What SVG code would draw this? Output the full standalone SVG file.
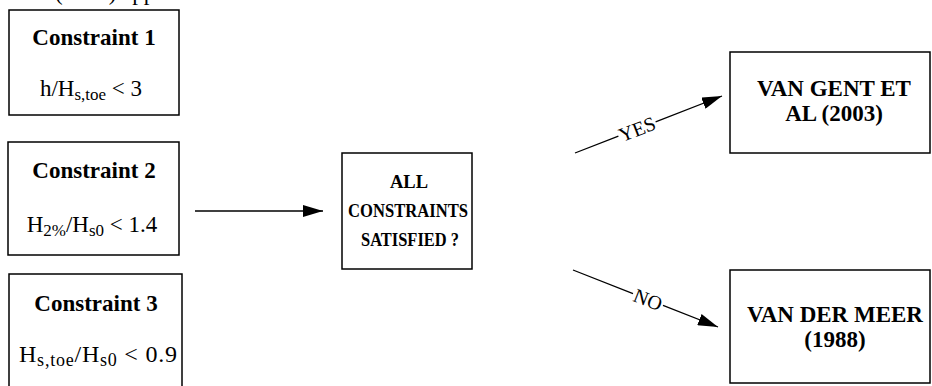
<svg xmlns="http://www.w3.org/2000/svg" width="932" height="386" viewBox="0 0 932 386">
<defs>
<style>
.box{fill:#fff;stroke:#000;stroke-width:1.5}
.b{font-family:"Liberation Serif","Times New Roman",serif;font-weight:bold;font-size:23px;fill:#000;text-anchor:middle}
.bc{font-family:"Liberation Serif","Times New Roman",serif;font-weight:bold;font-size:18.5px;fill:#000;text-anchor:middle}
.r{font-family:"Liberation Serif","Times New Roman",serif;font-size:23px;fill:#000;text-anchor:middle}
.lbl{font-family:"Liberation Serif","Times New Roman",serif;font-size:20px;fill:#000;text-anchor:middle}
.s{font-size:17px}
.ln{stroke:#000;stroke-width:1.3;fill:none}
</style>
<marker id="ah" viewBox="0 0 20 12" refX="20" refY="6" markerWidth="20" markerHeight="12" markerUnits="userSpaceOnUse" orient="auto">
<path d="M0,0 L20,6 L0,12 Z" fill="#000"/>
</marker>
</defs>
<rect width="932" height="386" fill="#fff"/>
<text class="r" x="55" y="0" style="text-anchor:start">(2003) applies</text>
<g id="c1">
<rect class="box" x="9" y="10" width="170" height="105"/>
<text class="b" x="94" y="45">Constraint 1</text>
<text class="r" x="91" y="96">h/H<tspan class="s" dy="4">s,toe</tspan><tspan dy="-4"> &lt; 3</tspan></text>
</g>
<g id="c2">
<rect class="box" x="8" y="142" width="171" height="113"/>
<text class="b" x="94" y="178">Constraint 2</text>
<text class="r" x="92" y="232">H<tspan class="s" dy="4">2%</tspan><tspan dy="-4">/H</tspan><tspan class="s" dy="4">s0</tspan><tspan dy="-4"> &lt; 1.4</tspan></text>
</g>
<g id="c3">
<rect class="box" x="9" y="274" width="173" height="118"/>
<text class="b" x="96" y="311">Constraint 3</text>
<text class="r" x="98" y="362" style="font-size:24px" textLength="158" lengthAdjust="spacing">H<tspan style="font-size:18px" dy="4">s,toe</tspan><tspan dy="-4">/H</tspan><tspan style="font-size:18px" dy="4">s0</tspan><tspan dy="-4"> &lt; 0.9</tspan></text>
</g>
<g id="all">
<rect class="box" x="342" y="153" width="130" height="116"/>
<text class="bc" x="409" y="188">ALL</text>
<text class="bc" x="408" y="217" textLength="120" lengthAdjust="spacingAndGlyphs">CONSTRAINTS</text>
<text class="bc" x="410" y="246" textLength="98" lengthAdjust="spacingAndGlyphs">SATISFIED ?</text>
</g>
<g id="vangent">
<rect class="box" x="730" y="52" width="200" height="101"/>
<text class="b" x="834" y="96">VAN GENT ET</text>
<text class="b" x="834" y="121">AL (2003)</text>
</g>
<g id="vandermeer">
<rect class="box" x="730" y="270" width="200" height="113"/>
<text class="b" x="835" y="322">VAN DER MEER</text>
<text class="b" x="835" y="347">(1988)</text>
</g>
<g id="connectors">
<line class="ln" x1="195" y1="211" x2="323" y2="211" marker-end="url(#ah)"/>
<path class="ln" d="M575,153 L618.4,136.2 M655.6,121.8 L722,96" marker-end="url(#ah)"/>
<text class="lbl" transform="translate(637,129) rotate(-21.2)" y="7">YES</text>
<path class="ln" d="M573,270 L633,293.6 M663,305.4 L718,327" marker-end="url(#ah)"/>
<text class="lbl" transform="translate(648,299.5) rotate(21.5)" y="7">NO</text>
</g>
</svg>
